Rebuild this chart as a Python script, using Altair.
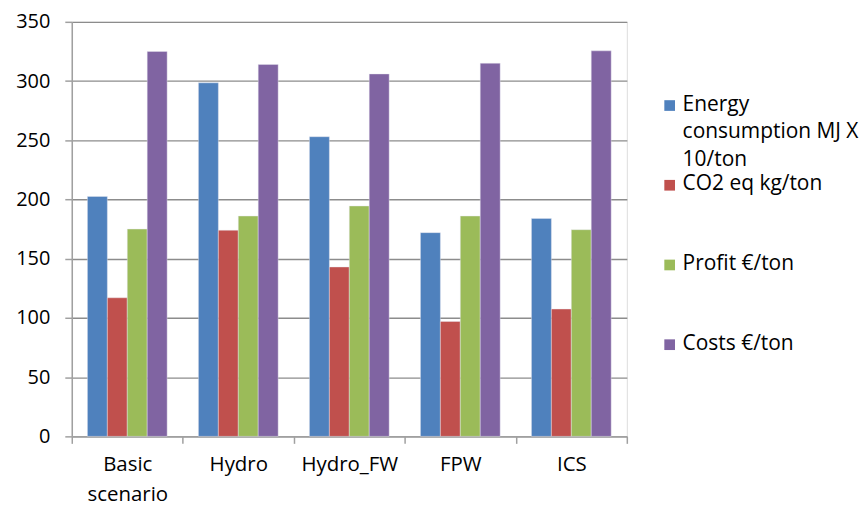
import altair as alt
import pandas as pd

scenarios = ["Basic scenario", "Hydro", "Hydro_FW", "FPW", "ICS"]
series = ["Energy consumption MJ X 10/ton", "CO2 eq kg/ton", "Profit €/ton", "Costs €/ton"]
legend_text = ["Energy\nconsumption MJ X\n10/ton", "CO2 eq kg/ton", "Profit €/ton", "Costs €/ton"]
colors = ["#4F81BD", "#C0504D", "#9BBB59", "#8064A2"]

energy = [202.5, 298.5, 253, 172, 184]
co2 = [117, 174, 143, 97, 107.5]
profit = [175, 186, 194.5, 186, 174.5]
costs = [325, 314, 306, 315, 325.5]

values = [energy, co2, profit, costs]
rows = []
for s, vals in zip(series, values):
    for sc, v in zip(scenarios, vals):
        rows.append({"scenario": sc, "series": s, "value": v})
df = pd.DataFrame(rows)
leg = pd.DataFrame({"series": series, "text": legend_text})

FONT = "Open Sans"
color_scale = alt.Scale(domain=series, range=colors)

bars = alt.Chart(df).mark_bar(stroke="#e8e8f0", strokeWidth=0.6, strokeOpacity=0.7).encode(
    x=alt.X("scenario:N", sort=scenarios, title=None,
            scale=alt.Scale(paddingInner=0, paddingOuter=0),
            axis=alt.Axis(labelAngle=0, tickBand="extent", grid=False,
                          labelExpr="split(datum.label, ' ')",
                          labelLineHeight=30, labelPadding=11, tickSize=7,
                          labelFontSize=20.5, labelFont=FONT, labelColor="#000",
                          domainColor="#a0a0a0", tickColor="#a0a0a0",
                          domainWidth=1.5, tickWidth=1.5)),
    xOffset=alt.XOffset("series:N", sort=series,
                        scale=alt.Scale(paddingInner=0, paddingOuter=0.785)),
    y=alt.Y("value:Q", title=None,
            scale=alt.Scale(domain=[0, 350], nice=False),
            axis=alt.Axis(values=list(range(0, 351, 50)), tickSize=7,
                          labelPadding=15, labelFontSize=20, labelFont=FONT,
                          labelColor="#000", gridColor="#8c8c8c", gridWidth=1.4,
                          domainColor="#a0a0a0", tickColor="#a0a0a0",
                          domainWidth=1.5, tickWidth=1.5)),
    color=alt.Color("series:N", scale=color_scale, legend=None),
)

leg_y = alt.Y("series:N", sort=series, axis=None,
              scale=alt.Scale(type="point", domain=series, range=[84, 324], padding=0))

leg_sq = alt.Chart(leg).mark_square(size=115, opacity=1).encode(
    x=alt.value(600),
    y=leg_y,
    color=alt.Color("series:N", scale=color_scale, legend=None),
)
leg_tx = alt.Chart(leg).mark_text(align="left", baseline="top", lineBreak="\n",
                                  lineHeight=28, fontSize=21, font=FONT,
                                  color="#000", dy=-12).encode(
    x=alt.value(613),
    y=leg_y,
    text="text:N",
)

chart = alt.layer(bars, leg_sq, leg_tx).resolve_scale(y="independent").properties(
    width=557, height=416,
    padding={"top": 3, "left": 7, "right": 0, "bottom": 0},
).configure_view(stroke="#a0a0a0", strokeWidth=1.5).configure(background="white")

chart.save("out.html", embed_options={"renderer": "svg", "actions": False})
